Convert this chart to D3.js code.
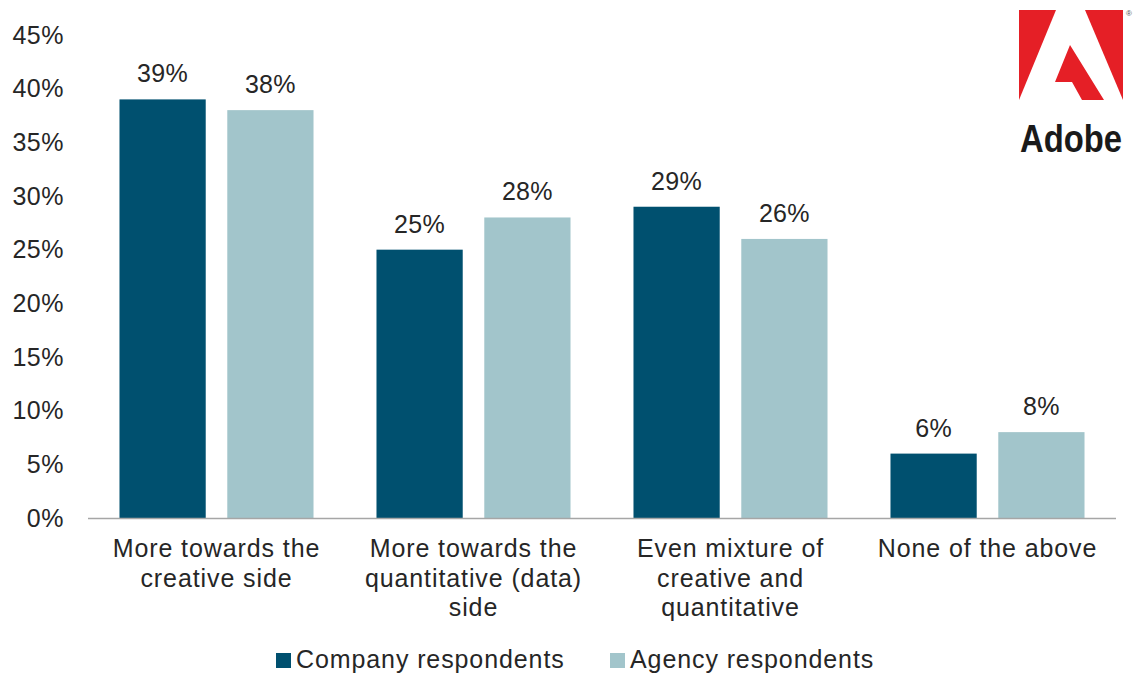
<!DOCTYPE html>
<html>
<head>
<meta charset="utf-8">
<script src="https://cdn.jsdelivr.net/npm/d3@7/dist/d3.min.js"></script>
<style>
  html, body { margin: 0; padding: 0; background: #fff; }
  svg text { font-family: "Liberation Sans", Arial, sans-serif; fill: #262626; }
</style>
</head>
<body>
<svg id="chart" width="1137" height="674"></svg>
<script>
// Survey answers: where respondents place themselves
const categories = [
  ["More towards the", "creative side"],
  ["More towards the", "quantitative (data)", "side"],
  ["Even mixture of", "creative and", "quantitative"],
  ["None of the above"]
];
const seriesNames = ["Company respondents", "Agency respondents"];
const companyValues = [39, 25, 29, 6];
const agencyValues = [38, 28, 26, 8];
const yTicks = [0, 5, 10, 15, 20, 25, 30, 35, 40, 45];
const colors = ["#00506f", "#a2c5cb"];

const svg = d3.select("#chart");
const margin = { left: 88, right: 1116, top: 35, bottom: 518 };

const x0 = d3.scaleBand()
  .domain(d3.range(categories.length))
  .range([margin.left, margin.right])
  .paddingInner(0.245)
  .paddingOuter(0.1225);

const x1 = d3.scaleBand()
  .domain([0, 1])
  .range([0, x0.bandwidth()])
  .paddingInner(0.2);

const y = d3.scaleLinear().domain([0, 45]).range([margin.bottom, margin.top]);

// y tick labels (no axis line, no tick marks)
svg.append("g")
  .selectAll("text")
  .data(yTicks)
  .join("text")
  .attr("x", 64)
  .attr("y", d => y(d))
  .attr("dy", "0.35em")
  .attr("text-anchor", "end")
  .style("font-size", "25px")
  .style("letter-spacing", "0.5px")
  .text(d => d + "%");

// bars
const rows = categories.map((c, i) => [companyValues[i], agencyValues[i]]);
const groups = svg.append("g")
  .selectAll("g")
  .data(rows)
  .join("g")
  .attr("transform", (d, i) => `translate(${x0(i)},0)`);

groups.selectAll("rect")
  .data(d => d)
  .join("rect")
  .attr("x", (d, j) => x1(j))
  .attr("y", d => y(d))
  .attr("width", x1.bandwidth())
  .attr("height", d => y(0) - y(d))
  .attr("fill", (d, j) => colors[j]);

groups.selectAll("text.val")
  .data(d => d)
  .join("text")
  .attr("class", "val")
  .attr("x", (d, j) => x1(j) + x1.bandwidth() / 2)
  .attr("y", d => y(d) - 17)
  .attr("text-anchor", "middle")
  .style("font-size", "25px")
  .style("letter-spacing", "0.3px")
  .text(d => d + "%");

// baseline
svg.append("line")
  .attr("x1", margin.left).attr("x2", margin.right)
  .attr("y1", y(0) + 0.5).attr("y2", y(0) + 0.5)
  .attr("stroke", "#a6a6a6").attr("stroke-width", 1.5);

// category labels
const catG = svg.append("g")
  .selectAll("text")
  .data(categories)
  .join("text")
  .attr("x", (d, i) => x0(i) + x0.bandwidth() / 2)
  .attr("y", 557)
  .attr("text-anchor", "middle")
  .style("font-size", "25px")
  .style("letter-spacing", "0.9px");
catG.selectAll("tspan")
  .data(d => d)
  .join("tspan")
  .attr("x", function () { return d3.select(this.parentNode).attr("x"); })
  .attr("dy", (d, k) => k === 0 ? 0 : 29.5)
  .text(d => d);

// legend
const legendX = [276, 610];
const leg = svg.append("g")
  .selectAll("g")
  .data(seriesNames)
  .join("g")
  .attr("transform", (d, i) => `translate(${legendX[i]},0)`);
leg.append("rect")
  .attr("x", 0).attr("y", 653)
  .attr("width", 15).attr("height", 15)
  .attr("fill", (d, i) => colors[i]);
leg.append("text")
  .attr("x", 20).attr("y", 668)
  .style("font-size", "25px")
  .style("letter-spacing", "0.9px")
  .text(d => d);

// Adobe logo
const logo = svg.append("g").attr("fill", "#e51f26");
logo.append("polygon").attr("points", "1019,10 1056,10 1019,100");
logo.append("polygon").attr("points", "1085,10 1123,10 1123,100");
logo.append("polygon").attr("points", "1070,45 1104,100 1082,100 1072,82 1055,82");
svg.append("text")
  .attr("x", 1020).attr("y", 152)
  .attr("textLength", 102)
  .attr("lengthAdjust", "spacingAndGlyphs")
  .style("font-family", "'Liberation Sans Narrow', 'Liberation Sans', Arial, sans-serif")
  .style("font-weight", "bold")
  .style("font-size", "38px")
  .style("fill", "#1a1a1a")
  .text("Adobe");
svg.append("text")
  .attr("x", 1126).attr("y", 16)
  .style("font-size", "8px")
  .style("fill", "#555")
  .text("®");
</script>
</body>
</html>
